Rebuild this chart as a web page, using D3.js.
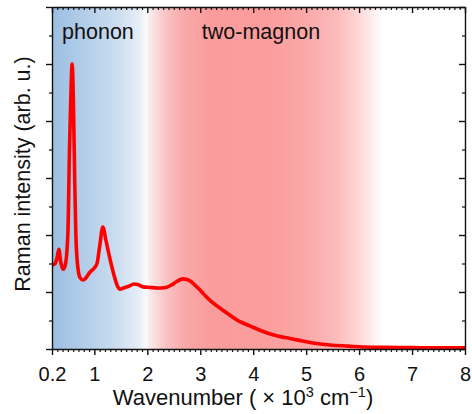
<!DOCTYPE html>
<html lang="en">
<head>
<meta charset="UTF-8">
<title>raman spectrum</title>
<style>
    body { margin: 0; background: #fff; }
    text { font-family: "Liberation Sans", Arial, sans-serif; fill: #111; }
    .axis path, .axis line { stroke: #111; }
</style>
</head>
<body>
<script src="https://d3js.org/d3.v7.min.js"></script>
<svg id="svg"></svg>
<script>
// wavenumber (x10^3 cm-1) and intensity (arb. u.)
var wavenumber = [0.20, 0.26, 0.30, 0.33, 0.36, 0.41, 0.45, 0.50, 0.53, 0.555, 0.58, 0.605, 0.63, 0.65, 0.68, 0.73, 0.79,
    0.85, 0.92, 0.98, 1.05, 1.10, 1.16, 1.22, 1.30, 1.37, 1.43, 1.48, 1.55, 1.65, 1.75, 1.82, 1.92, 2.05, 2.20, 2.35,
    2.45, 2.55, 2.67, 2.80, 2.90, 3.00, 3.10, 3.20, 3.37, 3.55, 3.75, 3.95, 4.15, 4.37, 4.60, 4.83, 5.10, 5.45, 5.80,
    6.07, 6.50, 7.00, 7.50, 8.00];
var intensity = [1.47, 1.50, 1.62, 1.75, 1.55, 1.40, 1.47, 2.03, 3.5, 4.4, 5.0, 4.3, 2.9, 2.03, 1.5, 1.25, 1.21,
    1.26, 1.35, 1.40, 1.50, 1.80, 2.14, 1.90, 1.56, 1.30, 1.12, 1.05, 1.07, 1.10, 1.14, 1.13, 1.09, 1.08, 1.07, 1.08,
    1.12, 1.18, 1.23, 1.20, 1.12, 1.03, 0.93, 0.84, 0.72, 0.60, 0.48, 0.40, 0.32, 0.25, 0.20, 0.16, 0.11, 0.07, 0.05,
    0.035, 0.03, 0.025, 0.02, 0.02];
var xTickValues = [0.2, 1, 2, 3, 4, 5, 6, 7, 8];
var xTickLabels = ["0.2", "1", "2", "3", "4", "5", "6", "7", "8"];
var regionLabels = ["phonon", "two-magnon"];
var regionLabelX = [0.39, 3.03];

var W = 472, H = 414;
var m = { left: 52, right: 7, top: 7, bottom: 65 };
var iw = W - m.left - m.right, ih = H - m.top - m.bottom;

var svg = d3.select("#svg").attr("width", W).attr("height", H);
var g = svg.append("g").attr("transform", "translate(" + m.left + "," + m.top + ")");

var x = d3.scaleLinear().domain([0.2, 8]).range([0, iw]);
var y = d3.scaleLinear().domain([0, 6]).range([ih, 0]);

// background shading (blue phonon region, red two-magnon region)
var shade = [
    [0.2, "#9cbfe2"], [0.8, "#b2cde9"], [1.4, "#cadcef"], [1.85, "#e6eef7"], [1.98, "#fafbfd"],
    [2.05, "#fbe9ea"], [2.35, "#f8c3c4"], [2.7, "#f9a9aa"], [3.2, "#fa9c9c"], [4.3, "#fb9d9d"],
    [5.0, "#fba8a8"], [5.6, "#fcbcbc"], [6.1, "#fde0e0"], [6.45, "#ffffff"], [8, "#ffffff"]
];
var grad = svg.append("defs").append("linearGradient")
    .attr("id", "bg").attr("gradientUnits", "userSpaceOnUse")
    .attr("x1", 0).attr("x2", iw).attr("y1", 0).attr("y2", 0);
grad.selectAll("stop").data(shade).enter().append("stop")
    .attr("offset", function (d) { return x(d[0]) / iw; })
    .attr("stop-color", function (d) { return d[1]; });
g.append("rect").attr("width", iw).attr("height", ih).attr("fill", "url(#bg)");

svg.select("defs").append("clipPath").attr("id", "clip")
    .append("rect").attr("width", iw).attr("height", ih);

var pts = wavenumber.map(function (w, i) { return [w, intensity[i]]; });
var line = d3.line()
    .x(function (d) { return x(d[0]); })
    .y(function (d) { return y(d[1]); })
    .curve(d3.curveMonotoneX);
g.append("path").datum(pts)
    .attr("clip-path", "url(#clip)")
    .attr("d", line)
    .attr("fill", "none")
    .attr("stroke", "#ff0000")
    .attr("stroke-width", 3.6)
    .attr("stroke-linejoin", "round");

// region labels
g.selectAll(".region").data(regionLabels).enter().append("text")
    .attr("class", "region")
    .attr("x", function (d, i) { return x(regionLabelX[i]); })
    .attr("y", 32)
    .attr("font-size", 21.5)
    .text(function (d) { return d; });

// axes
var minorX = d3.range(2, 81).map(function (i) { return i / 10; })
    .filter(function (v) { return xTickValues.indexOf(v) < 0; });
var minorY = d3.range(0.5, 6, 1);

function frame(axisFn, scale, major, minor, tf, outward, labels) {
    var gm = g.append("g").attr("class", "axis").attr("transform", tf)
        .call(axisFn(scale).tickValues(minor).tickSize(outward ? 3 : -3).tickFormat(""));
    gm.select(".domain").remove();
    var ga = g.append("g").attr("class", "axis").attr("transform", tf)
        .call(axisFn(scale).tickValues(major).tickSize(outward ? 6 : -6).tickSizeOuter(0)
            .tickFormat(labels ? function (d, i) { return labels[i]; } : ""));
    ga.selectAll("line, path").attr("stroke-width", 1.4);
    gm.selectAll("line").attr("stroke-width", 1.2);
    return ga;
}

var xa = frame(d3.axisBottom, x, xTickValues, minorX, "translate(0," + ih + ")", true, xTickLabels);
xa.selectAll("text").attr("font-size", 20).attr("y", 32).attr("dy", 0).attr("fill", "#111");
frame(d3.axisTop, x, xTickValues, minorX, "translate(0,0)", false, null);
frame(d3.axisLeft, y, d3.range(0, 7), minorY, "translate(0,0)", true, null);
frame(d3.axisRight, y, d3.range(0, 7), minorY, "translate(" + iw + ",0)", false, null);

// axis titles
var xt = svg.append("text")
    .attr("x", 243).attr("y", 405)
    .attr("text-anchor", "middle")
    .attr("font-size", 22);
xt.append("tspan").text("Wavenumber ( \u00d7 10");
xt.append("tspan").attr("dy", -8).attr("font-size", 14.5).text("3");
xt.append("tspan").attr("dy", 8).text(" cm");
xt.append("tspan").attr("dy", -8).attr("font-size", 14.5).text("\u22121");
xt.append("tspan").attr("dy", 8).text(")");

svg.append("text")
    .attr("transform", "translate(30,174) rotate(-90)")
    .attr("text-anchor", "middle")
    .attr("font-size", 21.5)
    .text("Raman intensity (arb. u.)");
</script>
</body>
</html>
